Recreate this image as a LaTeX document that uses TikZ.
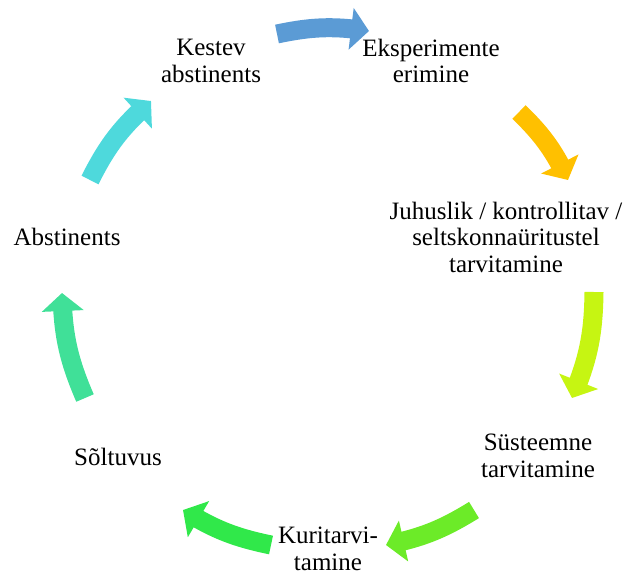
\documentclass[tikz,border=0pt]{standalone}
\usepackage{fontspec}
\setmainfont{Liberation Serif}
\usetikzlibrary{arrows.meta,bending}
\definecolor{cblue}{RGB}{91,155,213}
\definecolor{corange}{RGB}{255,192,0}
\definecolor{cyellow}{RGB}{198,245,18}
\definecolor{clime}{RGB}{108,235,40}
\definecolor{cgreen}{RGB}{48,232,74}
\definecolor{cteal}{RGB}{64,224,152}
\definecolor{ccyan}{RGB}{78,217,220}
\tikzset{
  lbl/.style={align=center,inner sep=0pt,font=\fontsize{25}{26.5}\selectfont},
  cyc/.style={line width=19pt,-{Triangle[length=18pt,width=41pt,flex]}}
}
\begin{document}
\begin{tikzpicture}[x=1pt,y=-1pt]
\useasboundingbox (0,0) rectangle (629,574);
\node[lbl] (kestev) at (211,61) {Kestev\\abstinents};
\node[lbl] (eksp) at (431,61) {Eksperimente\\erimine};
\node[lbl] (juh) at (506,237) {Juhuslik / kontrollitav /\\seltskonnaüritustel\\tarvitamine};
\node[lbl] (sys) at (538,456) {Süsteemne\\tarvitamine};
\node[lbl] (kur) at (328,549) {Kuritarvi-\\tamine};
\node[lbl] (solt) at (118,457) {Sõltuvus};
\node[lbl] (abst) at (67,237) {Abstinents};
\coordinate (a1) at (277,34);  \coordinate (b1) at (369,31);
\coordinate (a2) at (519,112); \coordinate (b2) at (568,180);
\coordinate (a3) at (594,292); \coordinate (b3) at (572,398);
\coordinate (a4) at (474,510); \coordinate (b4) at (386,545);
\coordinate (a5) at (271,545); \coordinate (b5) at (183,510);
\coordinate (a6) at (85,398);  \coordinate (b6) at (62,293);
\coordinate (a7) at (90,180);  \coordinate (b7) at (151,101);
\draw[cyc,cblue]   (a1) to[bend left=10] (b1);
\draw[cyc,corange] (a2) to[bend left=10] (b2);
\draw[cyc,cyellow] (a3) to[bend left=11] (b3);
\draw[cyc,clime]   (a4) to[bend left=10] (b4);
\draw[cyc,cgreen]  (a5) to[bend left=10] (b5);
\draw[cyc,cteal]   (a6) to[bend left=11] (b6);
\draw[cyc,ccyan]   (a7) to[bend left=11] (b7);
\end{tikzpicture}
\end{document}
